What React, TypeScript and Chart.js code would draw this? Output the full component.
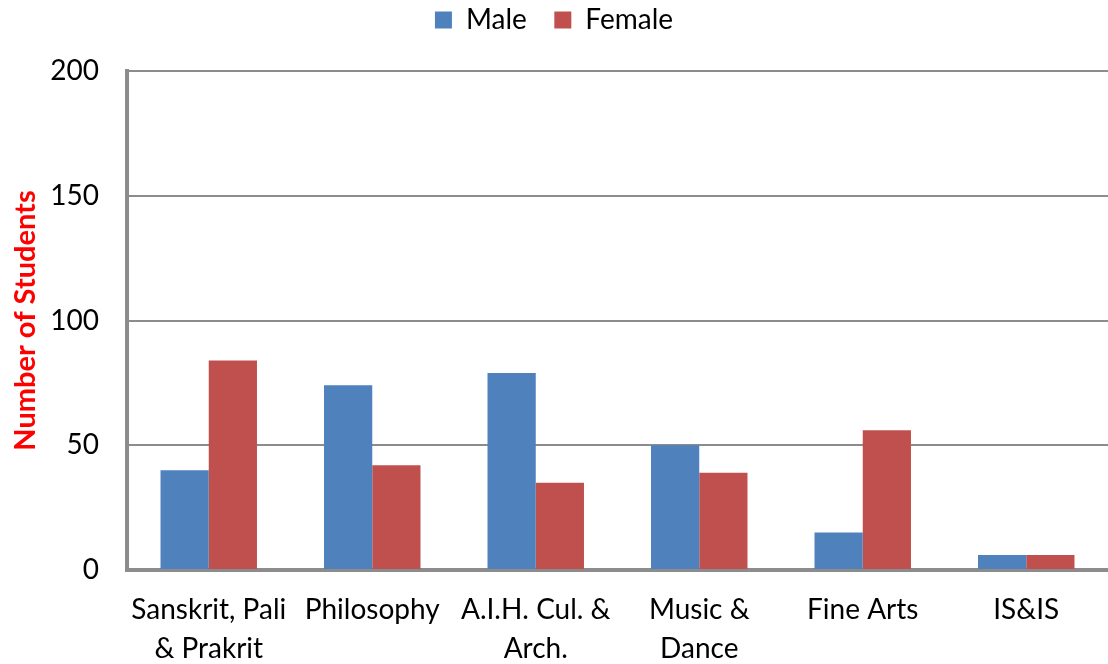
import React, { useEffect, useRef } from "react";
import { Chart, registerables } from "chart.js";

Chart.register(...registerables);

const categories: (string | string[])[] = [
  ["Sanskrit, Pali", "& Prakrit"],
  "Philosophy",
  ["A.I.H. Cul. &", "Arch."],
  ["Music &", "Dance"],
  "Fine Arts",
  "IS&IS",
];
const maleValues = [40, 74, 79, 50, 15, 6];
const femaleValues = [84, 42, 35, 39, 56, 6];
const yTicks = [0, 50, 100, 150, 200];

const FONT = "Lato, 'Noto Sans', sans-serif";

const legendHeight = {
  id: "legendHeight",
  beforeInit(chart: any) {
    const orig = chart.legend.fit;
    chart.legend.fit = function () {
      orig.bind(chart.legend)();
      this.height = 71;
    };
  },
};

export default function App() {
  const ref = useRef<HTMLCanvasElement | null>(null);
  useEffect(() => {
    if (!ref.current) return;
    const defaultGen = Chart.defaults.plugins.legend.labels.generateLabels;
    const chart = new Chart(ref.current, {
      type: "bar",
      data: {
        labels: categories,
        datasets: [
          { label: "Male", data: maleValues, backgroundColor: "#4F81BD", categoryPercentage: 0.59, barPercentage: 1 },
          { label: "Female", data: femaleValues, backgroundColor: "#C0504D", categoryPercentage: 0.59, barPercentage: 1 },
        ],
      },
      plugins: [legendHeight],
      options: {
        responsive: false,
        animation: false,
        layout: { padding: { left: 0, right: 0, top: 0, bottom: 0 } },
        plugins: {
          legend: {
            position: "top",
            labels: {
              font: { family: FONT, size: 28 },
              color: "#000",
              boxWidth: 17,
              boxHeight: 17,
              padding: 6,
              generateLabels: (c: any) =>
                defaultGen(c).map((l: any, i: number) => (i === 0 ? { ...l, text: l.text + "   " } : l)),
            },
          },
          tooltip: { enabled: false },
        },
        scales: {
          x: {
            grid: { display: false, drawTicks: false },
            border: { color: "#8c8c8c", width: 4 },
            ticks: {
              font: { family: FONT, size: 28, lineHeight: 1.38 },
              color: "#000",
              maxRotation: 0,
              autoSkip: false,
              padding: 21,
            },
            afterFit: (s: any) => { s.height = 94; },
          },
          y: {
            min: 0,
            max: 200,
            afterBuildTicks: (s: any) => { s.ticks = yTicks.map((v) => ({ value: v })); },
            grid: { color: "#8c8c8c", lineWidth: 2, drawTicks: false },
            border: { color: "#8c8c8c", width: 4 },
            ticks: {
              font: { family: FONT, size: 28 },
              color: "#000",
              padding: 28,
            },
            title: {
              display: true,
              text: "Number of Students",
              color: "#FF0000",
              font: { family: FONT, size: 29, weight: "bold" },
              padding: { top: 8, bottom: 0 },
            },
            afterFit: (s: any) => { s.width = 127; },
          },
        },
      },
    });
    return () => chart.destroy();
  }, []);
  return (
    <div style={{ position: "fixed", left: 0, top: 0, width: 1108, height: 664, background: "#fff" }}>
      <canvas ref={ref} width={1108} height={664} />
    </div>
  );
}
